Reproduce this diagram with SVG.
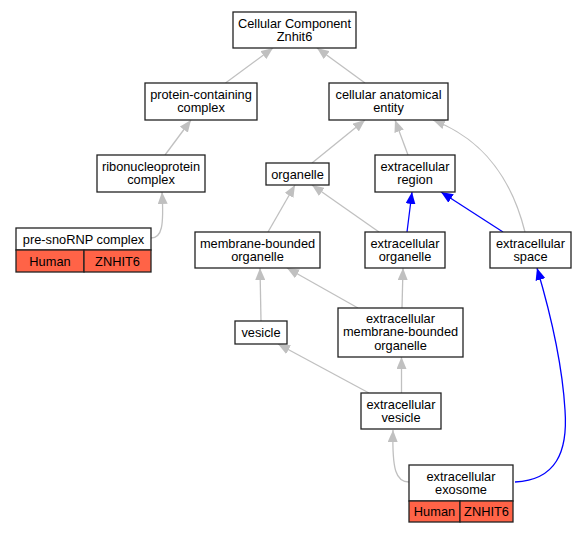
<svg xmlns="http://www.w3.org/2000/svg" width="587" height="533" viewBox="0 0 587 533">
<style>
.n{fill:#fff;stroke:#222;stroke-width:1.3}
.h{fill:#ff6347;stroke:#222;stroke-width:1.3}
text{font-family:"Liberation Sans",Arial,sans-serif;font-size:12.8px;text-anchor:middle;fill:#000}
.g{fill:none;stroke:#c0c0c0;stroke-width:1.3}
.b{fill:none;stroke:#0000ff;stroke-width:1.3}
</style>
<defs>
<marker id="ag" viewBox="0 0 12 10" refX="12" refY="5" markerWidth="12" markerHeight="10" markerUnits="userSpaceOnUse" orient="auto"><path d="M0,0L12,5L0,10z" fill="#c0c0c0"/></marker>
<marker id="ab" viewBox="0 0 12 10" refX="12" refY="5" markerWidth="12" markerHeight="10" markerUnits="userSpaceOnUse" orient="auto"><path d="M0,0L12,5L0,10z" fill="#0000ff"/></marker>
</defs>
<rect width="587" height="533" fill="#fff"/>
<g id="edges">
<path class="g" marker-end="url(#ag)" d="M225.5,83L273,48"/>
<path class="g" marker-end="url(#ag)" d="M365,83L317,48"/>
<path class="g" marker-end="url(#ag)" d="M165,155L191,120"/>
<path class="g" marker-end="url(#ag)" d="M312,163L365,120"/>
<path class="g" marker-end="url(#ag)" d="M408,155L395,120"/>
<path class="g" marker-end="url(#ag)" d="M525,232C512,180 485,140 433,120"/>
<path class="g" marker-end="url(#ag)" d="M151,238C162,238 164,226 162,192"/>
<path class="g" marker-end="url(#ag)" d="M268,232L295,185"/>
<path class="g" marker-end="url(#ag)" d="M379,232L312,185"/>
<path class="b" marker-end="url(#ab)" d="M407,232L412,192"/>
<path class="b" marker-end="url(#ab)" d="M503,232L441,192"/>
<path class="g" marker-end="url(#ag)" d="M261,321L260,268"/>
<path class="g" marker-end="url(#ag)" d="M358,308L287,268"/>
<path class="g" marker-end="url(#ag)" d="M402,308L403,268"/>
<path class="g" marker-end="url(#ag)" d="M369,393L278,344"/>
<path class="g" marker-end="url(#ag)" d="M401.5,393L401.5,357"/>
<path class="g" marker-end="url(#ag)" d="M409,482C396,482 392,470 393,430"/>
<path class="b" marker-end="url(#ab)" d="M515,482C556,480 568,452 565,410C562,360 548,305 537,268"/>
</g>
<g id="n_cc"><rect class="n" x="233" y="12" width="123" height="36"/><text x="294.5" y="27.5">Cellular Component</text><text x="294.5" y="41">Znhit6</text></g>
<g id="n_pcc"><rect class="n" x="145" y="83" width="112" height="37"/><text x="201" y="98.5">protein-containing</text><text x="201" y="112">complex</text></g>
<g id="n_cae"><rect class="n" x="329" y="83" width="119" height="37"/><text x="388.5" y="98.5">cellular anatomical</text><text x="388.5" y="112">entity</text></g>
<g id="n_rnp"><rect class="n" x="97" y="155" width="108" height="37"/><text x="151" y="170.5">ribonucleoprotein</text><text x="151" y="184">complex</text></g>
<g id="n_org"><rect class="n" x="266" y="163" width="63" height="22"/><text x="297.5" y="178.5">organelle</text></g>
<g id="n_er"><rect class="n" x="375" y="155" width="80" height="37"/><text x="415" y="170.5">extracellular</text><text x="415" y="184">region</text></g>
<g id="n_sno"><rect class="n" x="16" y="228" width="135" height="22"/><text x="83.5" y="243.5">pre-snoRNP complex</text><rect class="h" x="16" y="250" width="68" height="22"/><text x="50" y="265.5">Human</text><rect class="h" x="84" y="250" width="67" height="22"/><text x="117.5" y="265.5">ZNHIT6</text></g>
<g id="n_mbo"><rect class="n" x="195" y="232" width="125" height="36"/><text x="257.5" y="247.5">membrane-bounded</text><text x="257.5" y="261">organelle</text></g>
<g id="n_eo"><rect class="n" x="365" y="232" width="80" height="36"/><text x="405" y="247.5">extracellular</text><text x="405" y="261">organelle</text></g>
<g id="n_es"><rect class="n" x="490" y="232" width="81" height="36"/><text x="530.5" y="247.5">extracellular</text><text x="530.5" y="261">space</text></g>
<g id="n_ves"><rect class="n" x="235" y="321" width="52" height="23"/><text x="261" y="336.5">vesicle</text></g>
<g id="n_embo"><rect class="n" x="338" y="308" width="125" height="49"/><text x="400.5" y="322.5">extracellular</text><text x="400.5" y="336">membrane-bounded</text><text x="400.5" y="349.5">organelle</text></g>
<g id="n_ev"><rect class="n" x="361" y="393" width="80" height="36"/><text x="401" y="408.5">extracellular</text><text x="401" y="422">vesicle</text></g>
<g id="n_exo"><rect class="n" x="409" y="465" width="104" height="36"/><text x="461" y="480.5">extracellular</text><text x="461" y="494">exosome</text><rect class="h" x="409" y="501" width="51" height="21"/><text x="434.5" y="516">Human</text><rect class="h" x="460" y="501" width="53" height="21"/><text x="486.5" y="516">ZNHIT6</text></g>
</svg>
